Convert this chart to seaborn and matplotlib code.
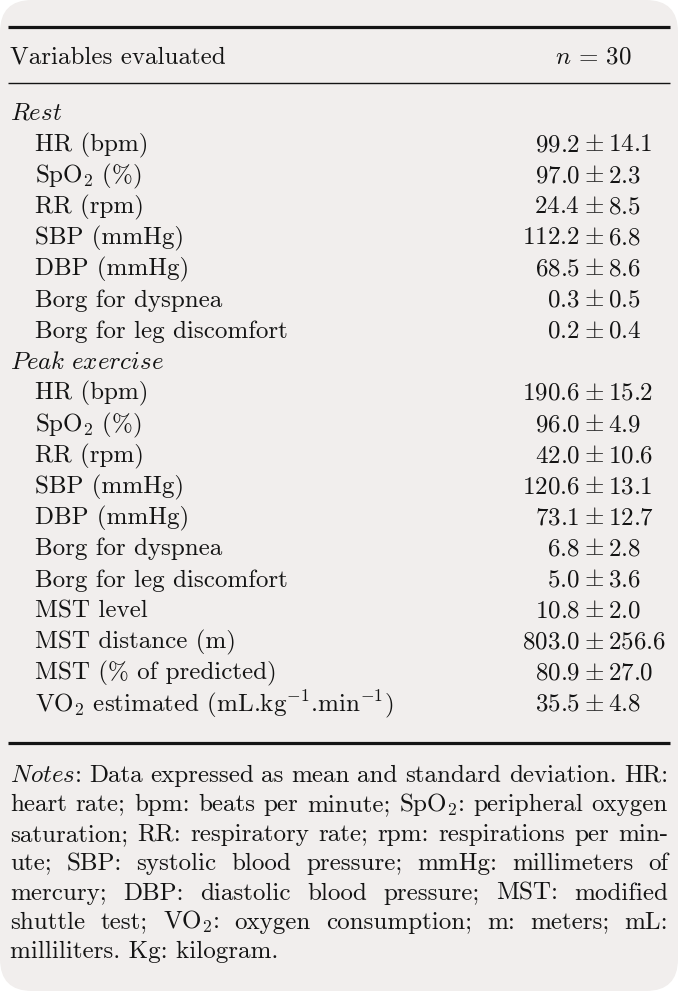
import matplotlib
matplotlib.use("Agg")
import matplotlib.pyplot as plt
import seaborn as sns
from matplotlib.patches import FancyBboxPatch

sns.set_theme(style="white")
plt.rcParams['font.family'] = ['cmr10', 'DejaVu Serif']
plt.rcParams['mathtext.fontset'] = 'cm'
plt.rcParams['axes.unicode_minus'] = False

# table content
header_left = "Variables evaluated"
header_right = r"$n\,=\,30$"

rest_labels = ["HR (bpm)", "SpO$_2$ (%)", "RR (rpm)", "SBP (mmHg)", "DBP (mmHg)",
               "Borg for dyspnea", "Borg for leg discomfort"]
rest_means = [99.2, 97.0, 24.4, 112.2, 68.5, 0.3, 0.2]
rest_sds = [14.1, 2.3, 8.5, 6.8, 8.6, 0.5, 0.4]

peak_labels = ["HR (bpm)", "SpO$_2$ (%)", "RR (rpm)", "SBP (mmHg)", "DBP (mmHg)",
               "Borg for dyspnea", "Borg for leg discomfort", "MST level",
               "MST distance (m)", "MST (% of predicted)",
               r"VO$_2$ estimated (mL.kg$^{-1}$.min$^{-1}$)"]
peak_means = [190.6, 96.0, 42.0, 120.6, 73.1, 6.8, 5.0, 10.8, 803.0, 80.9, 35.5]
peak_sds = [15.2, 4.9, 10.6, 13.1, 12.7, 2.8, 3.6, 2.0, 256.6, 27.0, 4.8]

notes_lines = [
    r"$\mathit{Notes}$: Data expressed as mean and standard deviation. HR:",
    r"heart rate; bpm: beats per minute; SpO$_2$: peripheral oxygen",
    r"saturation; RR: respiratory rate; rpm: respirations per min-",
    r"ute; SBP: systolic blood pressure; mmHg: millimeters of",
    r"mercury; DBP: diastolic blood pressure; MST: modified",
    r"shuttle test; VO$_2$: oxygen consumption; m: meters; mL:",
    r"milliliters. Kg: kilogram.",
]

W, H = 678, 991
FS = 18
INK = '#141414'

fig = plt.figure(figsize=(W / 100, H / 100), dpi=100)
fig.patch.set_facecolor('white')
ax = fig.add_axes([0, 0, 1, 1])
ax.set_xlim(0, W)
ax.set_ylim(H, 0)
ax.axis('off')

ax.add_patch(FancyBboxPatch((0, 0), W, H, boxstyle="round,pad=0,rounding_size=32",
                            facecolor='#f1eeed', edgecolor='none'))

# rules
ax.plot([8, 670], [26.5, 26.5], color=INK, lw=2.3, solid_capstyle='butt')
ax.plot([8, 670], [83, 83], color=INK, lw=1.0, solid_capstyle='butt')
ax.plot([8, 670], [743, 743], color=INK, lw=2.3, solid_capstyle='butt')

ax.text(10, 63, header_left, fontsize=FS, color=INK, va='baseline', ha='left')
ax.text(593, 63, header_right, fontsize=FS, color=INK, va='baseline', ha='center')

x_pm = 594
gap_pm = 14
y0, step = 120, 31.1


def value_cell(y, m, s):
    ax.text(x_pm - gap_pm, y, f"${m:.1f}$", fontsize=FS, color=INK, va='baseline', ha='right')
    ax.text(x_pm, y, r"$\pm$", fontsize=FS, color=INK, va='baseline', ha='center')
    ax.text(x_pm + gap_pm, y, f"${s:.1f}$", fontsize=FS, color=INK, va='baseline', ha='left')


row = 0
ax.text(10, y0 + row * step, r"$\mathit{Rest}$", fontsize=FS, color=INK, va='baseline')
row += 1
for lab, m, s in zip(rest_labels, rest_means, rest_sds):
    y = y0 + row * step
    ax.text(35, y, lab, fontsize=FS, color=INK, va='baseline')
    value_cell(y, m, s)
    row += 1

ax.text(10, y0 + row * step, r"$\mathit{Peak\ exercise}$", fontsize=FS, color=INK, va='baseline')
row += 1
for lab, m, s in zip(peak_labels, peak_means, peak_sds):
    y = y0 + row * step
    ax.text(35, y, lab, fontsize=FS, color=INK, va='baseline')
    value_cell(y, m, s)
    row += 1

# notes, justified word by word
fig.canvas.draw()
renderer = fig.canvas.get_renderer()
left, right = 10, 668
ny0, nstep = 782, 29.4
for i, line in enumerate(notes_lines):
    y = ny0 + i * nstep
    words = line.split(" ")
    # keep math pieces together
    merged = []
    for w in words:
        if merged and merged[-1].count('$') % 2 == 1:
            merged[-1] += " " + w
        else:
            merged.append(w)
    if i == len(notes_lines) - 1:
        ax.text(left, y, line, fontsize=FS, color=INK, va='baseline', ha='left')
        continue
    texts = [ax.text(0, y, w, fontsize=FS, color=INK, va='baseline', ha='left') for w in merged]
    widths = [t.get_window_extent(renderer).width for t in texts]
    gap = (right - left - sum(widths)) / (len(texts) - 1)
    x = left
    for t, w in zip(texts, widths):
        t.set_x(x)
        x += w + gap

fig.savefig("out.png", dpi=100, facecolor='white')
